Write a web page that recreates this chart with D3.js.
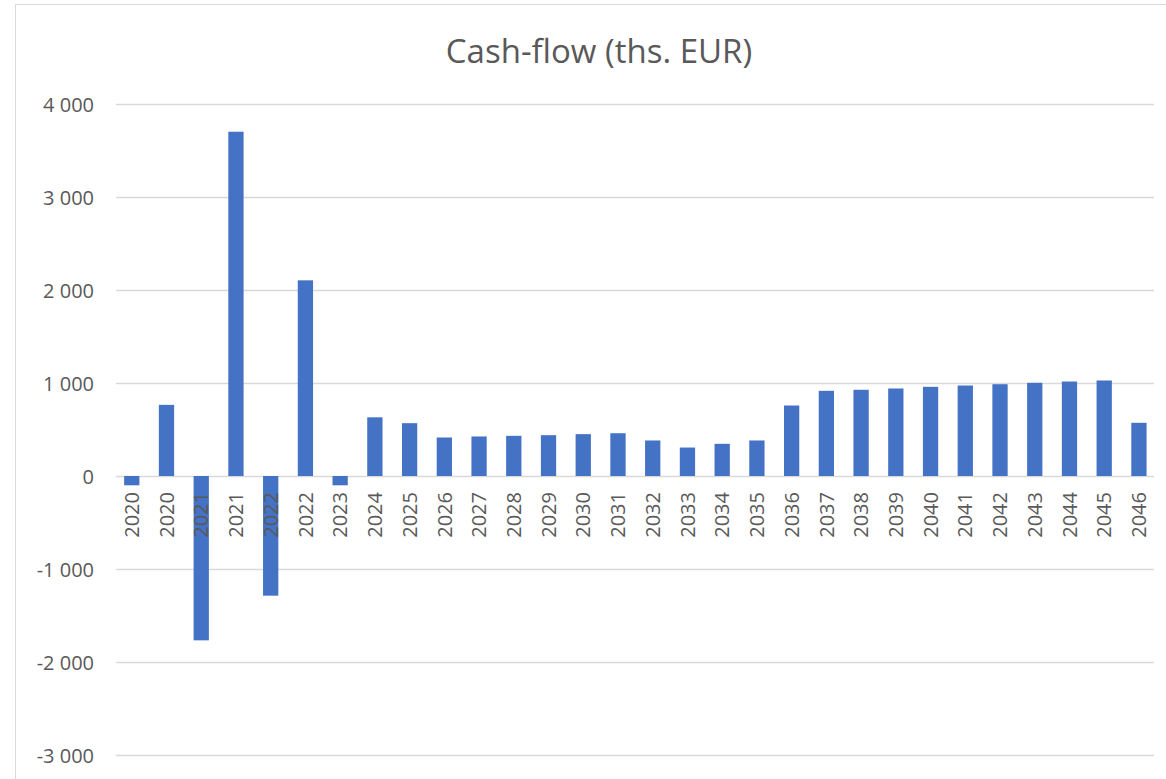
<!DOCTYPE html>
<html><head><meta charset="utf-8">
<script src="https://cdn.jsdelivr.net/npm/d3@7"></script>
<style>body{margin:0;background:#fff;} svg{display:block;}</style>
</head><body>
<svg id="c" width="1166" height="779"></svg>
<script>
const years = ["2020","2020","2021","2021","2022","2022","2023","2024","2025","2026","2027","2028","2029","2030","2031","2032","2033","2034","2035","2036","2037","2038","2039","2040","2041","2042","2043","2044","2045","2046"];
const values = [-100,765,-1767,3702,-1287,2104,-100,631,568,414,425,432,439,450,460,382,306,346,382,758,916,927,941,959,973,987,1002,1016,1027,572];
const yTicks = [-3000,-2000,-1000,0,1000,2000,3000,4000];
const title = "Cash-flow (ths. EUR)";

const svg = d3.select("#c");
const font = "'Open Sans', 'Liberation Sans', sans-serif";
const textColor = "#595959";

// chart frame
svg.append("rect").attr("x",15.5).attr("y",4.5).attr("width",1200).attr("height",800)
  .attr("fill","#fff").attr("stroke","#d9d9d9").attr("stroke-width",1);

const ids = years.map((d,i)=>i);
const x = d3.scaleBand().domain(ids).range([114.4,1156.3]).paddingInner(0.56).paddingOuter(0.28);
const y = d3.scaleLinear().domain([-3000,4000]).range([755,104]);

// y axis labels
const yAxis = d3.axisLeft(y).tickValues(yTicks).tickSize(0).tickPadding(0)
  .tickFormat(d => d3.format(",")(d).replace(/,/g," ").replace("−","-"));
const gy = svg.append("g").attr("transform","translate(94,0)").call(yAxis);
gy.select(".domain").remove();
gy.selectAll("text").attr("font-family",font).attr("font-size",20).attr("fill",textColor).attr("dy","0.35em");

// gridlines
svg.append("g").selectAll("line").data(yTicks).join("line")
  .attr("x1",116).attr("x2",1154)
  .attr("y1",d=>Math.round(y(d))+0.5).attr("y2",d=>Math.round(y(d))+0.5)
  .attr("stroke","#d9d9d9").attr("stroke-width",1.3);

// bars
svg.append("g").selectAll("rect").data(values).join("rect")
  .attr("x",(d,i)=>x(i)).attr("width",x.bandwidth())
  .attr("y",d=>y(Math.max(0,d))).attr("height",d=>Math.abs(y(d)-y(0)))
  .attr("fill","#4472C4");

// category axis labels
const xAxis = d3.axisBottom(x).tickSize(0).tickFormat(i=>years[i]);
const gx = svg.append("g").attr("transform",`translate(0,${y(0)})`).call(xAxis);
gx.select(".domain").remove();
gx.selectAll("text").attr("font-family",font).attr("font-size",20).attr("fill",textColor)
  .attr("text-anchor","end").attr("transform","rotate(-90)")
  .attr("x",-16).attr("y",0).attr("dy","0.36em");

svg.append("text").attr("x",599).attr("y",63).attr("text-anchor","middle")
  .attr("font-family",font).attr("font-size",33).attr("fill",textColor).text(title);
</script>
</body></html>
